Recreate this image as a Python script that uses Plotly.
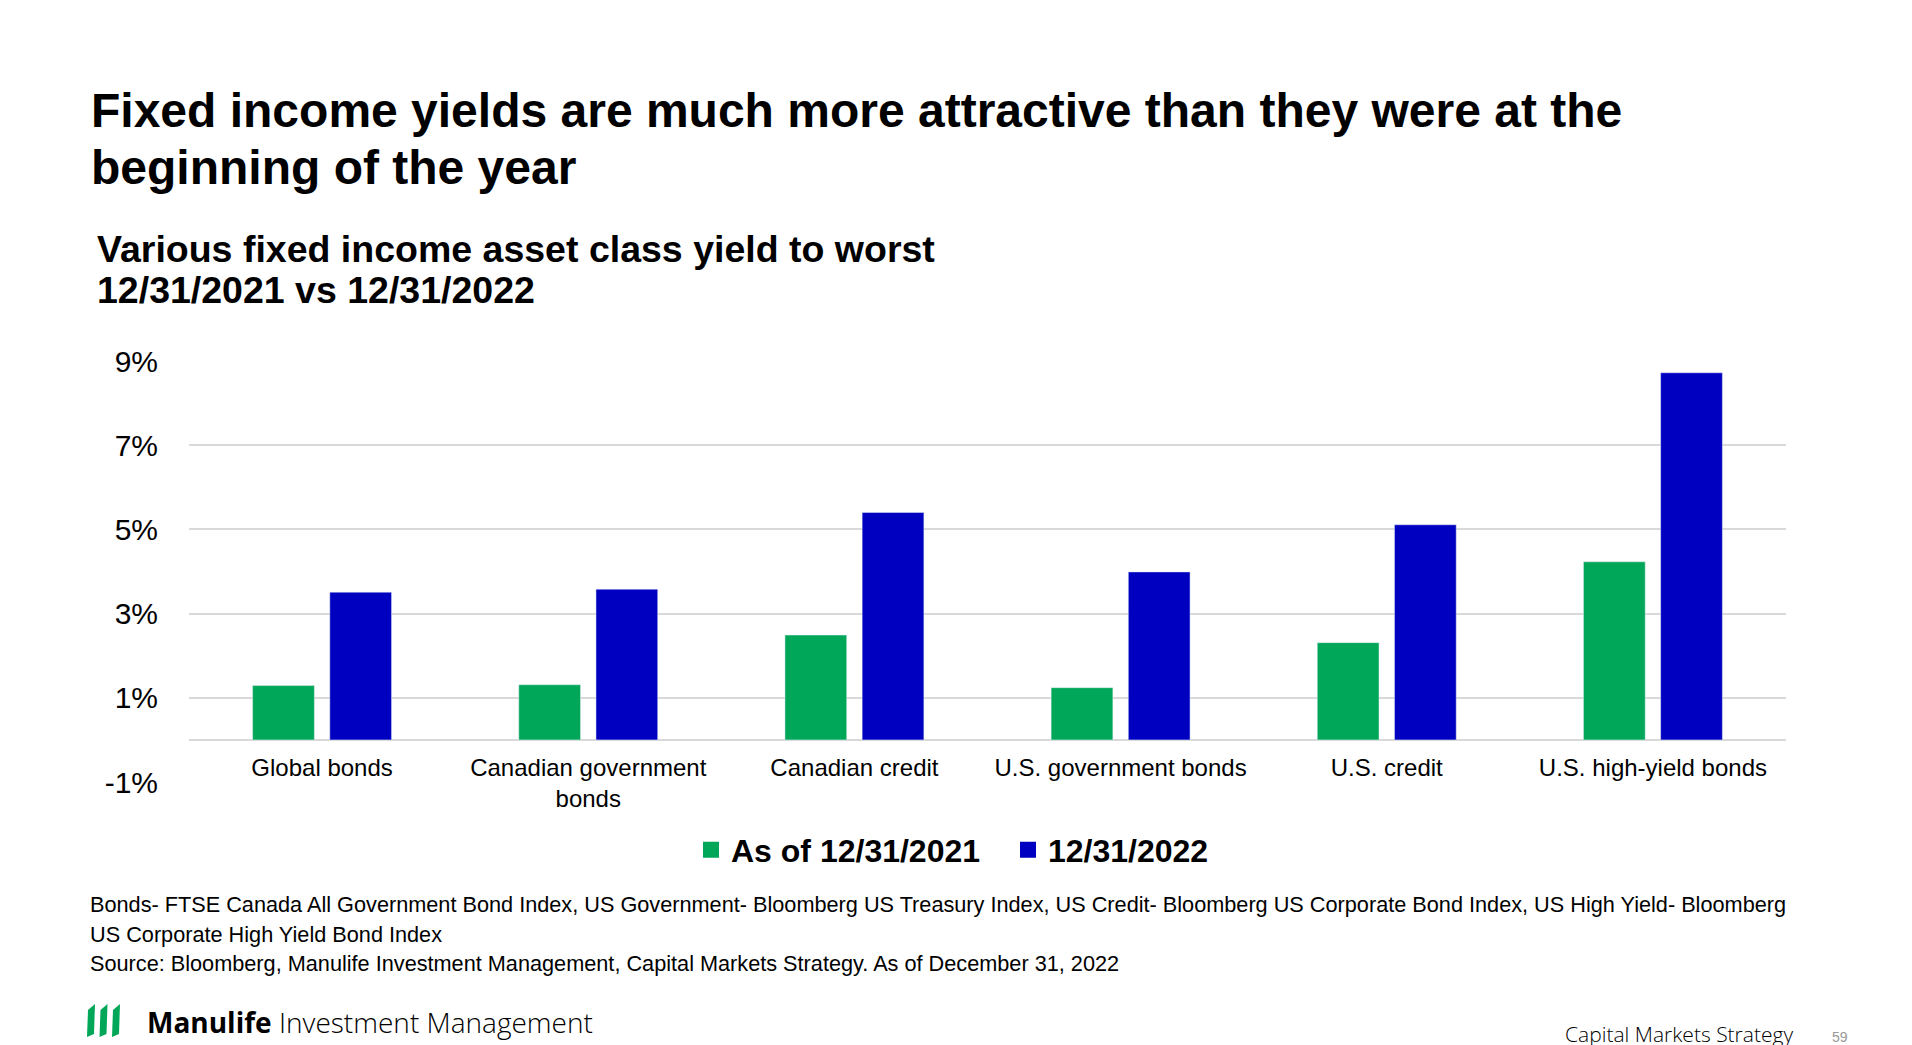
import plotly.graph_objects as go

# yield to worst
categories = ["Global bonds", "Canadian government<br>bonds", "Canadian credit",
              "U.S. government bonds", "U.S. credit", "U.S. high-yield bonds"]
yield_2021 = [1.29, 1.31, 2.49, 1.24, 2.31, 4.23]
yield_2022 = [3.51, 3.58, 5.40, 3.99, 5.11, 8.72]
series_names = ["As of 12/31/2021", "12/31/2022"]
y_ticks = [-1, 1, 3, 5, 7, 9]
y_ticktext = ["%d%%" % v for v in y_ticks]

GREEN = "#00A758"
BLUE = "#0000C0"
GRID = "#D9D9D9"

W, H = 1912, 1045
OFF = 8                             # page body margin of the html
L, R, T, B = 189, 1786, 361, 782    # plot area, page pixels


def px(x):
    return (x - L) / (R - L)


def py(y):
    return (B - y) / (B - T)


fig = go.Figure()
for vals, name, col in [(yield_2021, series_names[0], GREEN),
                        (yield_2022, series_names[1], BLUE)]:
    fig.add_trace(go.Bar(x=categories, y=vals, name=name, marker_color=col,
                         showlegend=False, legendgroup=name))
    # bigger square swatch for the legend
    fig.add_trace(go.Scatter(x=[None], y=[None], mode="markers", name=name,
                             legendgroup=name,
                             marker=dict(symbol="square", size=16, color=col)))

notes = [
    "Bonds- FTSE Canada All Government Bond Index, US Government- Bloomberg US Treasury Index, "
    "US Credit- Bloomberg US Corporate Bond Index, US High Yield- Bloomberg",
    "US Corporate High Yield Bond Index",
    "Source: Bloomberg, Manulife Investment Management, Capital Markets Strategy. As of December 31, 2022",
]

annotations = [
    dict(x=px(89), y=py(110), text="Fixed income yields are much more attractive than they were at the",
         font=dict(size=48, weight="bold")),
    dict(x=px(89), y=py(167), text="beginning of the year", font=dict(size=48, weight="bold")),
    dict(x=px(95), y=py(249), text="Various fixed income asset class yield to worst",
         font=dict(size=37.5, weight="bold")),
    dict(x=px(95), y=py(290), text="12/31/2021 vs 12/31/2022", font=dict(size=37.5, weight="bold")),
]
for i, line in enumerate(notes):
    annotations.append(dict(x=px(88), y=py(905 + 29 * i), text=line, font=dict(size=21.7)))
annotations += [
    dict(x=px(145), y=py(1022), text="Manulife",
         font=dict(size=28, weight="bold", family="Open Sans, sans-serif")),
    dict(x=px(277), y=py(1022), text="Investment Management",
         font=dict(size=28, weight=300, family="Open Sans, sans-serif")),
    dict(x=px(1563), y=py(1034), text="Capital Markets Strategy",
         font=dict(size=21, weight=300, family="Open Sans, sans-serif")),
    dict(x=px(1830), y=py(1037), text="59", font=dict(size=14, color="#999999")),
]
for a in annotations:
    a.update(xref="paper", yref="paper", xanchor="left", yanchor="middle",
             showarrow=False)
    a["font"].setdefault("color", "#000000")

# logo stripes
shapes = []
for k in range(3):
    x0 = 87 + 12.5 * k
    pts = [(x0, 1037), (x0 + 7, 1034), (x0 + 8, 1004), (x0 + 1, 1010)]
    path = "M " + " L ".join("{:.5f} {:.5f}".format(px(a), py(b)) for a, b in pts) + " Z"
    shapes.append(dict(type="path", xref="paper", yref="paper", path=path,
                       fillcolor=GREEN, line=dict(width=0)))

fig.update_layout(
    width=W, height=H,
    margin=dict(l=L - OFF, r=W - R + OFF, t=T - OFF, b=H - B + OFF, pad=0),
    paper_bgcolor="white", plot_bgcolor="white",
    font=dict(family="Liberation Sans, Arial, sans-serif", color="#000000"),
    barmode="group", bargap=0.42, bargroupgap=0.2,
    showlegend=True,
    legend=dict(orientation="h", x=px(691), y=py(850), xanchor="left", yanchor="middle",
                font=dict(size=32, weight="bold"), bgcolor="rgba(0,0,0,0)",
                entrywidth=272, itemclick=False, itemdoubleclick=False),
    annotations=annotations,
    shapes=shapes,
)
fig.update_yaxes(range=[-1, 9], tickvals=y_ticks, ticktext=y_ticktext,
                 showgrid=True, gridcolor=GRID, gridwidth=2,
                 zeroline=True, zerolinecolor=GRID, zerolinewidth=2,
                 showline=False, ticks="outside", ticklen=24,
                 tickcolor="rgba(0,0,0,0)", tickfont=dict(size=30))
fig.update_xaxes(anchor="free", position=py(740), showgrid=False, showline=False,
                 ticks="outside", ticklen=6, tickcolor="rgba(0,0,0,0)",
                 tickfont=dict(size=24), tickangle=0)

fig.write_html("out.html")
